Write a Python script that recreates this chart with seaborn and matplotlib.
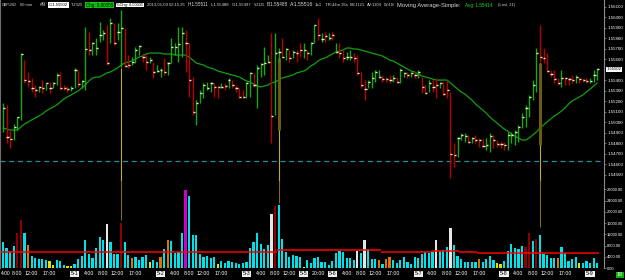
import numpy as np
import pandas as pd
import matplotlib
matplotlib.use("Agg")
import matplotlib.pyplot as plt
import matplotlib.transforms as mtransforms
import seaborn as sns

# ---------------- data ----------------
highs = [1.55182,1.55163,1.54925,1.54982,1.55049,1.55658,1.55592,1.55478,1.55420,1.55354,
 1.55344,1.55401,1.55373,1.55382,1.55382,1.55468,1.55478,1.55354,1.55344,1.55344,
 1.55516,1.55497,1.55401,1.55906,1.55858,1.55763,1.55801,1.55954,1.55877,1.55925,
 1.55992,1.55944,1.55944,1.56068,1.55896,1.55639,1.55620,1.55716,1.55735,1.55658,
 1.55639,1.55620,1.55573,1.55544,1.55516,1.55611,1.55573,1.55801,1.55754,1.55906,
 1.55906,1.55877,1.55754,1.55430,1.55211,1.55306,1.55373,1.55382,1.55382,1.55373,
 1.55354,1.55373,1.55373,1.55420,1.55401,1.55354,1.55325,1.55306,1.55382,1.55478,
 1.55468,1.55544,1.55563,1.55716,1.55639,1.55849,1.55849,1.55706,1.55801,1.55706,
 1.55687,1.55687,1.55687,1.55754,1.55754,1.55687,1.55763,1.55925,1.55992,1.55849,
 1.55858,1.55849,1.55858,1.55754,1.55754,1.55687,1.55668,1.55687,1.55658,1.55639,
 1.55478,1.55401,1.55401,1.55478,1.55497,1.55497,1.55449,1.55430,1.55449,1.55449,
 1.55430,1.55516,1.55478,1.55478,1.55478,1.55478,1.55497,1.55430,1.55354,1.55401,
 1.55401,1.55420,1.55382,1.55382,1.55401,1.55287,1.54802,1.54859,1.54897,1.54897,
 1.54878,1.54859,1.54878,1.54849,1.54840,1.54849,1.54897,1.54878,1.54830,1.54811,
 1.54811,1.54906,1.54906,1.54925,1.54973,1.55087,1.55163,1.55259,1.55401,1.55706,
 1.55925,1.55706,1.55658,1.55497,1.55497,1.55420,1.55497,1.55430,1.55430,1.55449,
 1.55449,1.55430,1.55420,1.55420,1.55420,1.55497,1.55516]

lows = [1.54906,1.54802,1.54754,1.54830,1.54925,1.55021,1.55373,1.55335,1.55287,1.55240,
 1.55287,1.55278,1.55306,1.55278,1.55325,1.55354,1.55306,1.55306,1.55287,1.55297,
 1.55325,1.55335,1.55325,1.55306,1.55639,1.55639,1.55639,1.55763,1.55782,1.55544,
 1.55754,1.55735,1.55782,1.55525,1.55525,1.55516,1.55544,1.55563,1.55639,1.55573,
 1.55497,1.55563,1.55420,1.55478,1.55430,1.55449,1.55449,1.55563,1.55639,1.55573,
 1.55620,1.55478,1.55240,1.55068,1.54973,1.55182,1.55230,1.55306,1.55287,1.55240,
 1.55230,1.55325,1.55306,1.55325,1.55325,1.55287,1.55230,1.55230,1.55230,1.55240,
 1.55335,1.55135,1.55430,1.55449,1.55563,1.54802,1.55068,1.55573,1.55611,1.55592,
 1.55573,1.55611,1.55573,1.55620,1.55611,1.55592,1.55639,1.55754,1.55782,1.55763,
 1.55763,1.55782,1.55782,1.55658,1.55611,1.55573,1.55592,1.55592,1.55573,1.55449,
 1.55325,1.55211,1.55325,1.55325,1.55382,1.55420,1.55382,1.55382,1.55373,1.55382,
 1.55373,1.55373,1.55430,1.55420,1.55430,1.55420,1.55420,1.55278,1.55278,1.55287,
 1.55287,1.55230,1.55325,1.55259,1.55230,1.54468,1.54573,1.54668,1.54830,1.54811,
 1.54802,1.54802,1.54802,1.54764,1.54764,1.54735,1.54716,1.54754,1.54764,1.54754,
 1.54735,1.54735,1.54802,1.54783,1.54811,1.54944,1.54954,1.55049,1.55211,1.55287,
 1.55573,1.55563,1.55478,1.55430,1.55373,1.55354,1.55335,1.55354,1.55354,1.55373,
 1.55373,1.55373,1.55382,1.55373,1.55373,1.55382,1.55401]

closes = [1.55135,1.54859,1.54840,1.54954,1.55049,1.55649,1.55401,1.55392,1.55325,1.55306,
 1.55335,1.55325,1.55373,1.55325,1.55373,1.55449,1.55325,1.55325,1.55316,1.55325,
 1.55497,1.55363,1.55392,1.55696,1.55687,1.55754,1.55706,1.55830,1.55849,1.55563,
 1.55944,1.55754,1.55858,1.55896,1.55535,1.55544,1.55573,1.55687,1.55725,1.55620,
 1.55573,1.55592,1.55478,1.55487,1.55497,1.55478,1.55563,1.55716,1.55716,1.55744,
 1.55849,1.55754,1.55401,1.55097,1.55182,1.55278,1.55354,1.55325,1.55373,1.55335,
 1.55335,1.55335,1.55344,1.55401,1.55354,1.55325,1.55240,1.55240,1.55373,1.55468,
 1.55354,1.55516,1.55554,1.55563,1.55573,1.55059,1.55658,1.55668,1.55620,1.55696,
 1.55611,1.55668,1.55658,1.55687,1.55687,1.55658,1.55754,1.55925,1.55830,1.55792,
 1.55820,1.55801,1.55830,1.55668,1.55658,1.55611,1.55620,1.55620,1.55611,1.55468,
 1.55354,1.55316,1.55382,1.55420,1.55478,1.55430,1.55411,1.55411,1.55401,1.55420,
 1.55382,1.55497,1.55468,1.55449,1.55468,1.55449,1.55478,1.55335,1.55278,1.55373,
 1.55335,1.55354,1.55373,1.55268,1.55306,1.54697,1.54687,1.54849,1.54878,1.54868,
 1.54811,1.54849,1.54830,1.54830,1.54773,1.54783,1.54868,1.54830,1.54792,1.54792,
 1.54783,1.54878,1.54878,1.54906,1.54954,1.55049,1.55135,1.55240,1.55354,1.55658,
 1.55620,1.55611,1.55487,1.55459,1.55411,1.55373,1.55420,1.55420,1.55411,1.55401,
 1.55430,1.55411,1.55401,1.55392,1.55392,1.55449,1.55502]

bar_up = [1,0,0,1,1,1,0,0,0,0, 1,0,1,0,1,1,0,0,0,1, 1,0,1,1,0,1,1,1,1,0,
          1,0,1,1,0,0,1,1,1,0, 0,1,0,1,1,0,1,1,1,1, 1,0,0,0,1,1,1,1,1,0,
          0,1,0,1,0,0,0,0,1,1, 0,1,1,1,1,0,1,1,0,1, 0,1,0,0,1,0,1,1,0,1,
          0,1,0,1,0,0,1,1,0,0, 0,0,1,1,1,1,0,0,0,1, 0,1,1,0,1,0,1,0,0,1,
          0,0,1,0,0,0,0,1,1,1, 0,1,0,0,0,1,1,0,0,0, 0,1,1,1,1,1,1,1,1,1,
          0,0,0,0,0,0,1,0,0,0, 1,0,0,0,1,1,1]

ma_values = [1.54944,1.54935,1.54925,1.54925,1.54925,1.54954,1.54982,1.55002,1.55021,1.55040,
 1.55059,1.55078,1.55106,1.55125,1.55144,1.55163,1.55192,1.55221,1.55240,1.55259,
 1.55278,1.55297,1.55325,1.55354,1.55392,1.55420,1.55430,1.55430,1.55449,1.55468,
 1.55478,1.55497,1.55516,1.55544,1.55563,1.55573,1.55582,1.55601,1.55620,1.55630,
 1.55649,1.55658,1.55658,1.55658,1.55658,1.55649,1.55649,1.55649,1.55639,1.55639,
 1.55639,1.55639,1.55620,1.55592,1.55563,1.55554,1.55544,1.55525,1.55516,1.55506,
 1.55487,1.55478,1.55468,1.55459,1.55449,1.55440,1.55430,1.55411,1.55392,1.55382,
 1.55363,1.55344,1.55335,1.55344,1.55354,1.55373,1.55382,1.55401,1.55420,1.55430,
 1.55440,1.55449,1.55468,1.55478,1.55487,1.55506,1.55535,1.55554,1.55582,1.55601,
 1.55611,1.55630,1.55649,1.55668,1.55677,1.55687,1.55706,1.55706,1.55696,1.55696,
 1.55687,1.55677,1.55668,1.55658,1.55649,1.55639,1.55630,1.55611,1.55592,1.55582,
 1.55563,1.55544,1.55525,1.55506,1.55487,1.55478,1.55459,1.55440,1.55430,1.55420,
 1.55411,1.55401,1.55401,1.55401,1.55401,1.55373,1.55344,1.55316,1.55287,1.55268,
 1.55240,1.55211,1.55173,1.55144,1.55116,1.55087,1.55049,1.55021,1.54992,1.54963,
 1.54935,1.54916,1.54887,1.54868,1.54849,1.54830,1.54830,1.54849,1.54878,1.54906,
 1.54944,1.54973,1.55002,1.55030,1.55059,1.55078,1.55106,1.55135,1.55173,1.55202,
 1.55221,1.55240,1.55259,1.55287,1.55316,1.55344,1.55373]

volumes = [9100,7000,6000,7700,12600,17200,12600,8100,4200,3500,
 3200,3200,2800,2500,1100,2800,2500,1100,700,700,
 1400,3200,4200,9800,4900,3500,7000,10900,9800,15800,
 9100,4900,4900,16100,9100,4600,3500,3900,2800,3900,
 4600,2100,2800,2100,3900,6700,9800,9500,5300,5600,
 12300,27700,25600,11900,11600,4900,3900,4200,3500,3900,
 1400,2500,1800,2500,2100,1800,1400,1800,2100,7000,
 9100,12300,8400,6700,8100,19300,22100,22500,10500,5600,
 3900,4600,4200,3900,350,2800,1800,3500,3900,2100,
 2100,1100,2500,5300,6000,5600,3500,3500,2800,6000,
 5300,9800,6700,3200,3200,2800,1400,3200,3900,2800,
 1800,2800,3900,2100,1400,3900,3500,4900,5600,5300,
 5600,9800,6000,6300,7400,14400,8100,4200,3200,2100,
 2100,2100,2100,3200,2100,3200,4200,2800,1800,1400,
 2500,6000,8400,7000,6700,7700,7400,12600,9500,10200,
 11900,4900,4600,3500,3500,3500,7400,5300,2500,3200,
 3900,1800,1800,2500,1800,3500,1800]

vol_codes = list("ccccrrcocc" "cccyycccyy" "cccccccccw" "cccrccoccc" "cyccococcc"
                 "cmcccccccc" "yccccccccc" "cccccwrccc" "ccccyccccc" "cccccccccw"
                 "cwcccocooc" "cccccccccc" "cwcccwcccc" "cccoccccyy" "ccccccrrcr"
                 "cccccocccc" "cyccccc")

vavg_starts = [0, 77, 106, 120, 128, 133, 151]
vavg_levels = [5600, 6300, 5800, 6150, 5800, 5450, 5250]

marker_bars = [33, 77, 150]
marker_tops = [1.55516, 1.55611, 1.55563]
marker_body_bottoms = [1.55516, 1.54925, 1.54783]
marker_vol_ends = [17000, 23000, 14600]

ref_level = 1.54630
last_price = 1.55502

price_ticks = [1.561, 1.560, 1.559, 1.558, 1.557, 1.556, 1.554, 1.553, 1.552, 1.551,
               1.550, 1.549, 1.548, 1.547, 1.546, 1.545]
vol_ticks = [0, 4000, 8000, 12000, 16000, 20000, 24000, 28000]

time_tick_bars = [0, 4, 8, 13, 24, 28, 32, 37, 48, 52, 56, 61, 72, 76, 80, 88,
                  96, 100, 104, 109, 120, 124, 128, 133, 144, 148, 152, 157]
time_tick_texts = ["4:00", "8:00", "12:00", "17:00", "4:00", "8:00", "12:00", "17:00",
                   "4:00", "8:00", "12:00", "17:00", "4:00", "8:00", "12:00", "20:00",
                   "4:00", "8:00", "12:00", "17:00", "4:00", "8:00", "12:00", "17:00",
                   "4:00", "8:00", "12:00", "17:00"]
date_bars = [20, 44, 68, 84, 92, 116, 140, 164]
date_texts = ["5-1", "5-2", "5-3", "5-5", "5-6", "5-7", "5-8", "5-9"]

# ---------------- styling ----------------
sns.set_theme(style="dark", rc={"axes.facecolor": "black", "figure.facecolor": "black"})
plt.rcParams["font.family"] = ["Liberation Sans Narrow", "Liberation Sans", "DejaVu Sans"]

W, H = 625, 280
fig = plt.figure(figsize=(W / 100, H / 100), dpi=100, facecolor="black")
fx = lambda px: px / W
fy = lambda py: 1 - py / H

ax_p = fig.add_axes([0, fy(181), fx(604), 181 / H])
ax_v = fig.add_axes([0, fy(268), fx(604), (268 - 181) / H], sharex=ax_p)

idx = np.arange(len(closes))
df = pd.DataFrame({"bar": idx, "high": highs, "low": lows, "close": closes,
                   "up": bar_up, "ma": ma_values, "vol": volumes, "vc": vol_codes})

UP, DOWN = "#16a816", "#b80000"
cols = [UP if u else DOWN for u in df["up"]]

# price bars
ax_p.vlines(df["bar"], df["low"], df["high"], colors=cols, linewidth=1.0, zorder=3)
ax_p.hlines(df["close"], df["bar"] - 0.05, df["bar"] + 0.55, colors="#f2eec4",
            linewidth=1.0, zorder=4)
# moving average
sns.lineplot(data=df, x="bar", y="ma", ax=ax_p, color="#10a010", linewidth=0.9,
             zorder=2, legend=False)
# reference level
ax_p.axhline(ref_level, color="#2a8c9c", linewidth=0.9, linestyle=(0, (4, 3)), zorder=1)

# marker lines
for b, top, bb, ve in zip(marker_bars, marker_tops, marker_body_bottoms, marker_vol_ends):
    ax_p.vlines(b, 1.5440, top, colors="#c0a640", linewidth=0.8, zorder=2)
    if bb < top:
        ax_p.vlines(b, bb, top, colors="#6a5a12", linewidth=2.2, zorder=2)
    ax_v.vlines(b, ve, 40000, colors="#7d6c22", linewidth=0.8, zorder=2)

# volume bars
vcmap = {"c": "#00e1ea", "r": "#8e0000", "o": "#e07400", "y": "#e6e000",
         "w": "#e6e6e6", "m": "#cc00cc"}
ax_v.bar(df["bar"], df["vol"], width=0.62, color=[vcmap[c] for c in df["vc"]],
         edgecolor="none", zorder=3)
for k, (s, lv) in enumerate(zip(vavg_starts, vavg_levels)):
    e = vavg_starts[k + 1] if k + 1 < len(vavg_starts) else len(volumes)
    ax_v.hlines(lv, s - 0.5, e - 0.5, colors="#ff0000", linewidth=1.1, zorder=4)

# axes limits
ax_p.set_xlim(-0.84, 167.9)
ax_p.set_ylim(1.54440, 1.56163)
ax_v.set_ylim(0, 30970)

for ax in (ax_p, ax_v):
    ax.set_facecolor("black")
    ax.grid(False)
    for s in ("top", "bottom"):
        ax.spines[s].set_visible(False)
    ax.spines["left"].set_color("#6e6e6e")
    ax.spines["left"].set_linewidth(0.8)
    ax.spines["right"].set_color("#8a8a8a")
    ax.spines["right"].set_linewidth(0.8)
    ax.yaxis.tick_right()
    ax.tick_params(axis="y", colors="#909090", labelcolor="white",
                   length=1.5, width=0.5, pad=0.8, direction="out")
    ax.set_xlabel("")
    ax.set_ylabel("")

ax_p.set_yticks(price_ticks)
ax_p.set_yticklabels([f"{v:.5f}" for v in price_ticks])
ax_p.tick_params(axis="y", labelsize=3.2)
ax_p.tick_params(axis="x", bottom=False, labelbottom=False)

ax_v.set_yticks(vol_ticks)
ax_v.set_yticklabels([f"{v:.2f}" for v in vol_ticks])
ax_v.tick_params(axis="y", labelsize=2.9)

xt = time_tick_bars + date_bars
xl = time_tick_texts + date_texts
order = np.argsort(xt)
ax_v.set_xticks([xt[i] for i in order])
ax_v.set_xticklabels([xl[i] for i in order])
ax_v.tick_params(axis="x", bottom=True, length=0, pad=2.5, labelsize=3.8,
                 labelcolor="white")
xlabels = ax_v.get_xticklabels()
for lab in xlabels:
    if lab.get_text() in date_texts:
        lab.set_color("black")
        lab.set_bbox(dict(facecolor="#f0f0f0", edgecolor="none", pad=0.6))
# first label sits at the very left edge: anchor it by its left side, nudged left
xlabels[0].set_horizontalalignment("left")
xlabels[0].set_fontsize(3.5)
xlabels[0].set_transform(xlabels[0].get_transform() +
                         mtransforms.ScaledTranslation(-2.0 / 100, 0, fig.dpi_scale_trans))

# current price label
ax_p.text(1.004, last_price, f"{last_price:.5f}", transform=ax_p.get_yaxis_transform(),
          fontsize=3.1, color="black", va="center", ha="left", clip_on=False, zorder=10,
          bbox=dict(facecolor="white", edgecolor="none", pad=0.4))

# green counter box bottom right
fig.text(fx(617), fy(275), "18", fontsize=3.8, color="white", va="center", ha="left",
         bbox=dict(facecolor="#10b010", edgecolor="none", pad=0.5))

# header line
renderer = fig.canvas.get_renderer()
header = [
    ("GBPUSD", 2, 15, "plain"), ("60 min", 20, 12, "plain"), ("#9", 40, 6, "plain"),
    ("C:1.55502", 49, 19, "white"), ("T:2325", 71, 12, "plain"),
    ("Chg: 0.00055", 86, 27, "green"), ("%Chg: 0.00035", 116, 28, "white"),
    ("2013-05-09 02:15:25", 147, 38, "plain"), ("H:1.55511", 188, 21, "plain"),
    ("L:1.55488", 211, 19, "plain"), ("O:1.55497", 232, 20, "plain"),
    ("V:2325", 254, 11, "plain"), ("B:1.55488", 267, 21, "plain"),
    ("A:1.55516", 290, 23, "plain"), ("1x1", 315, 7, "plain"),
    ("TR:44m 35s", 325, 23, "plain"), ("BV:1121", 350, 15, "plain"),
    ("AV:1204", 367, 15, "plain"), ("DV:416", 384, 11, "plain"),
    ("Moving Average-Simple:", 397, 63, "plain"), ("Avg: 1.55414", 465, 27, "gtext"),
    ("(Last, 21)", 498, 17, "plain"),
]
for text, x, wdt, style in header:
    kw = dict(color="#d8d8d8")
    if style == "white":
        kw = dict(color="black", bbox=dict(facecolor="white", edgecolor="none", pad=0.5))
    elif style == "green":
        kw = dict(color="black", bbox=dict(facecolor="#12c012", edgecolor="none", pad=0.5))
    elif style == "gtext":
        kw = dict(color="#1ee01e")
    t = fig.text(fx(x), fy(5), text, fontsize=4, ha="left", va="center", **kw)
    bw = t.get_window_extent(renderer).width
    if bw > 0:
        t.set_fontsize(min(4.6, 4 * wdt / bw))

fig.savefig("out.png", dpi=100, facecolor="black")
